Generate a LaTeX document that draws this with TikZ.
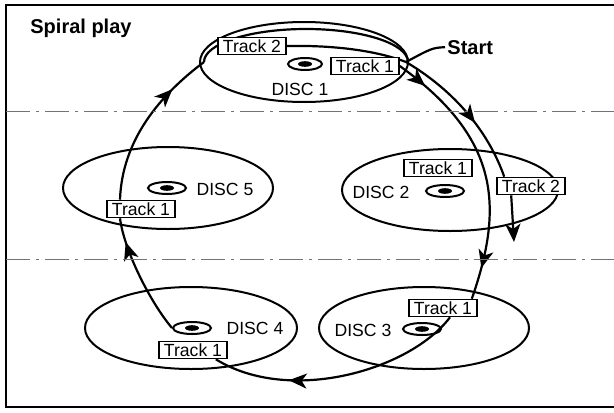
\documentclass[tikz,border=0pt]{standalone}
\usepackage{fontspec}
\setmainfont{Liberation Sans}
\usetikzlibrary{arrows.meta, positioning, shapes.geometric, decorations.markings, backgrounds}

\begin{document}
\begin{tikzpicture}[
    x=0.5pt, y=-0.5pt,
    every node/.style={font=\fontsize{8.8}{10}\selectfont},
    plate/.style={draw, ellipse, line width=1pt, minimum width=105pt,
                  minimum height=41pt, inner sep=0pt},
    hub/.style={draw, ellipse, line width=1pt, minimum width=19pt,
                minimum height=6pt, inner sep=0pt,
                path picture={\fill (path picture bounding box.center) ellipse (3.5pt and 1.4pt);}},
    track/.style={draw, fill=white, line width=0.8pt, inner xsep=2.5pt,
                  inner ysep=1pt, minimum height=8.5pt},
    disclbl/.style={inner sep=1pt},
    heading/.style={font=\fontsize{10}{12}\selectfont\bfseries, inner sep=1pt},
    flow/.style={line width=1.1pt},
    midarrow/.style={postaction={decorate, decoration={markings,
                     mark=at position #1 with {\arrow{Stealth[length=9pt,width=7.5pt,inset=2.5pt]}}}}},
    divider/.style={line width=0.5pt, black!55, dash pattern=on 12pt off 3pt on 1.5pt off 3pt}
]
\useasboundingbox (0,0) rectangle (614,412);
\draw[line width=1pt] (6,5) rectangle (620,407);
\draw[divider] (6,111) -- (614,111);
\draw[divider] (6,259) -- (614,259);

\node[heading, anchor=base west] (title) at (28,33) {Spiral play};
\node[heading, anchor=base west] (start) at (445,54) {Start};

% disc plates
\node[plate, minimum width=104pt, minimum height=40pt] (plate1) at (304,62) {};
\node[plate, minimum width=108pt] (plate2) at (450,190) {};
\node[plate] (plate3) at (424,328) {};
\node[plate, minimum width=106pt] (plate4) at (191,328) {};
\node[plate] (plate5) at (168,188) {};

\node[hub, minimum width=17pt] (hub1) at (305,64) {};
\node[hub] (hub2) at (445,191) {};
\node[hub] (hub3) at (422,329) {};
\node[hub] (hub4) at (192,328) {};
\node[hub] (hub5) at (167,188) {};

\node[disclbl] (name1) at (300,89) {DISC 1};
\node[disclbl] (name2) at (381,192) {DISC 2};
\node[disclbl] (name3) at (363,330) {DISC 3};
\node[disclbl] (name4) at (255,328) {DISC 4};
\node[disclbl] (name5) at (225,189) {DISC 5};

% tracks
\node[track] (t12) at (252,46) {Track 2};
\node[track] (t11) at (365,66) {Track 1};
\node[track] (t21) at (438,168) {Track 1};
\node[track] (t22) at (531,186) {Track 2};
\node[track] (t31) at (443,308) {Track 1};
\node[track] (t41) at (193,350) {Track 1};
\node[track] (t51) at (141,209) {Track 1};

\coordinate (jct) at (406,62);
\coordinate (jl) at (204,62);
\coordinate (stop) at (514,242);

\begin{scope}[on background layer]
\draw[flow] (start.west) .. controls (432,48) .. (jct);
\draw[flow] (jl) arc[start angle=180, end angle=0, x radius=51pt, y radius=16.5pt];
\draw[flow] (t12.east) .. controls (340,45) and (380,52) .. (jct);
\draw[flow, midarrow=0.12, midarrow=0.88] (t11.east)
    .. controls (498,137) and (505,204) .. ([xshift=-3pt]t31.north east);
\draw[flow, midarrow=0.6] (jct)
    .. controls (470,100) and (495,150) .. ([xshift=4pt]t22.north west);
\draw[flow, -{Stealth[length=9pt,width=7.5pt,inset=2.5pt]}] ([xshift=7.5pt]t22.south west) -- (stop);
\draw[flow, midarrow=0.7] ([xshift=3.5pt]t31.south)
    .. controls (410,370) and (290,405) .. ([xshift=-6pt]t41.south east);
\draw[flow, midarrow=0.8] (hub4.west)
    .. controls (150,302) and (124,250) .. ([xshift=-10.5pt]t51.south);
\draw[flow, midarrow=0.75] ([xshift=-10.5pt]t51.north)
    .. controls (122,140) and (160,95) .. (jl);
\end{scope}
\end{tikzpicture}
\end{document}
